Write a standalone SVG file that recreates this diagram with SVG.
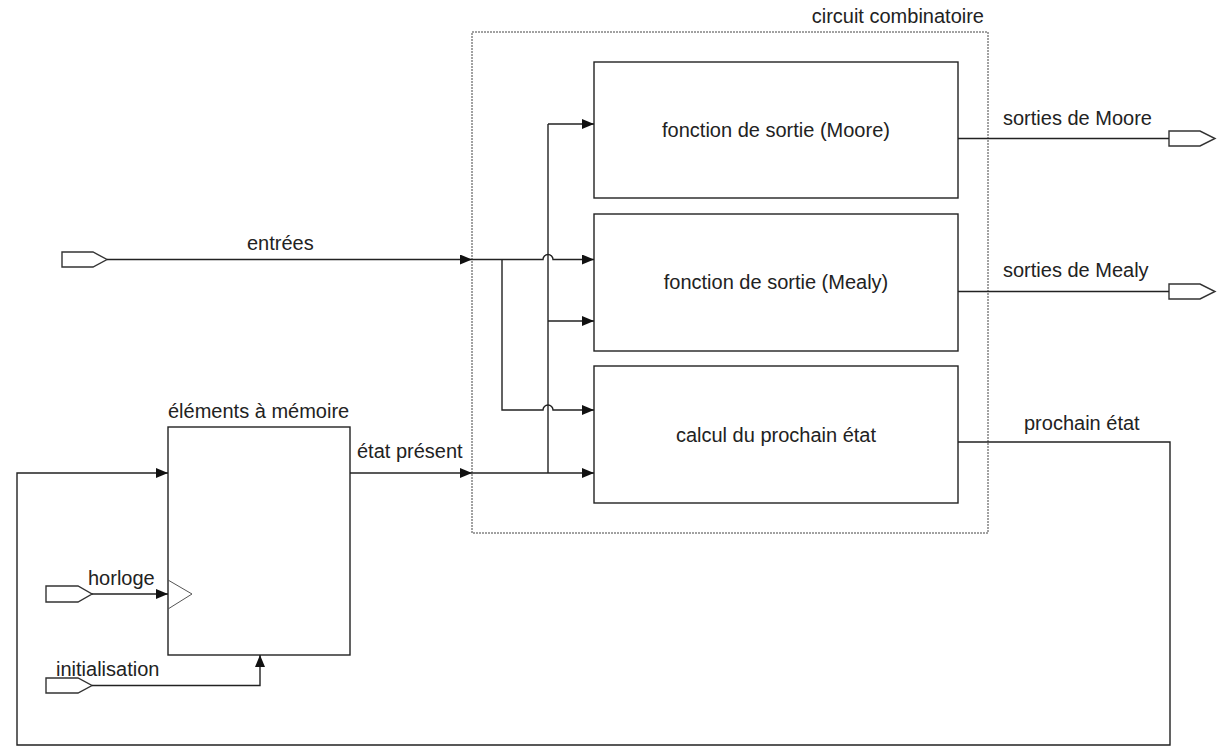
<svg xmlns="http://www.w3.org/2000/svg" width="1223" height="746" viewBox="0 0 1223 746">
<style>
text{font-family:"Liberation Sans",Arial,sans-serif;font-size:20px;fill:#222}
.box{fill:#fff;stroke:#222;stroke-width:1.4}
.port{fill:#fff;stroke:#333;stroke-width:1.4}
.w{fill:none;stroke:#222;stroke-width:1.4}
.wa{fill:none;stroke:#222;stroke-width:1.4;marker-end:url(#ah)}
.dot{fill:none;stroke:#444;stroke-width:1;stroke-dasharray:2,1}
</style>
<defs>
<marker id="ah" viewBox="0 0 12 10" refX="12" refY="5" markerWidth="12" markerHeight="10" markerUnits="userSpaceOnUse" orient="auto">
<path d="M0,0 L12,5 L0,10 z" fill="#111"/>
</marker>
</defs>
<rect width="1223" height="746" fill="#fff"/>
<g id="circuit-combinatoire">
<rect class="dot" x="472" y="32" width="516" height="501"/>
<text x="984" y="23" text-anchor="end">circuit combinatoire</text>
</g>
<g id="moore">
<rect class="box" x="594" y="62" width="364" height="136"/>
<text x="776" y="137" text-anchor="middle">fonction de sortie (Moore)</text>
</g>
<g id="mealy">
<rect class="box" x="594" y="214" width="364" height="137"/>
<text x="776" y="289" text-anchor="middle">fonction de sortie (Mealy)</text>
</g>
<g id="prochain">
<rect class="box" x="594" y="366" width="364" height="137"/>
<text x="776" y="442" text-anchor="middle">calcul du prochain état</text>
</g>
<g id="memoire">
<rect class="box" x="168" y="427" width="182" height="228"/>
<path d="M168,580 L192,594 L168,609" fill="none" stroke="#555" stroke-width="1"/>
<text x="168" y="418">éléments à mémoire</text>
</g>
<g id="port-entrees"><path class="port" d="M62,252 H93 L107,259.5 L93,267 H62 Z"/></g>
<g id="port-horloge"><path class="port" d="M46,586 H78 L92,594 L78,602 H46 Z"/></g>
<g id="port-init"><path class="port" d="M46,678 H78 L92,685.5 L78,693 H46 Z"/></g>
<g id="port-moore"><path class="port" d="M1169,131 H1200 L1215,138.5 L1200,146 H1169 Z"/></g>
<g id="port-mealy"><path class="port" d="M1169,284 H1200 L1215,291.5 L1200,299 H1169 Z"/></g>
<g id="connectors">
<path class="wa" d="M107,259.5 H472"/>
<path class="wa" d="M472,259.5 H543 A5,5 0 0 1 553,259.5 H594"/>
<path class="wa" d="M502,259.5 V410 H543 A5,5 0 0 1 553,410 H594"/>
<path class="wa" d="M350,473 H472"/>
<path class="wa" d="M472,473 H594"/>
<path class="w" d="M548,473 V124"/>
<path class="wa" d="M548,124 H594"/>
<path class="wa" d="M548,321 H594"/>
<path class="w" d="M958,138.5 H1169"/>
<path class="w" d="M958,291.5 H1169"/>
<path class="wa" d="M958,442 H1170 V745 H17 V473 H168"/>
<path class="wa" d="M92,594 H168"/>
<path class="wa" d="M92,685.5 H260 V655"/>
</g>
<g id="labels">
<text x="247" y="250">entrées</text>
<text x="357" y="458">état présent</text>
<text x="1003" y="125">sorties de Moore</text>
<text x="1003" y="277">sorties de Mealy</text>
<text x="1024" y="430">prochain état</text>
<text x="88" y="585">horloge</text>
<text x="56" y="676">initialisation</text>
</g>
</svg>
